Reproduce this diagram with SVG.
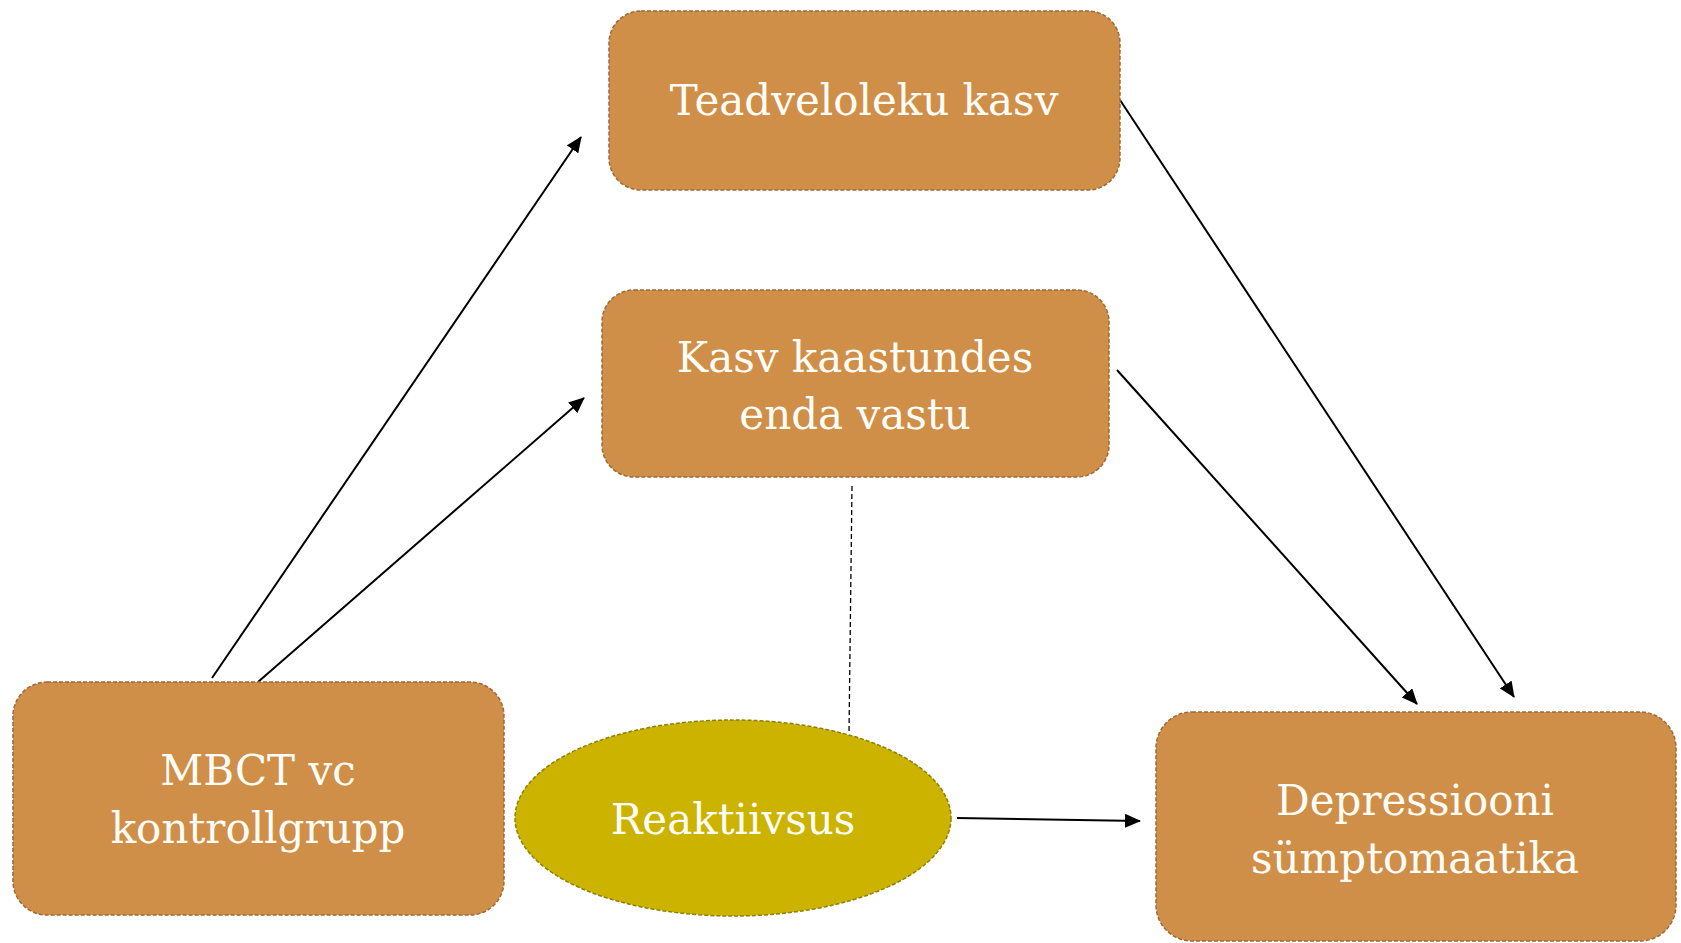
<svg xmlns="http://www.w3.org/2000/svg" width="1681" height="943" viewBox="0 0 1681 943">
<style>
.box{fill:#D08F49;stroke:#9C6A35;stroke-width:1.5;stroke-dasharray:4 2}
.ell{fill:#CBB300;stroke:#8E8000;stroke-width:1.5;stroke-dasharray:4 2}
.t{font-family:"DejaVu Serif","Liberation Serif",serif;font-size:42px;fill:#FFFDF8;text-anchor:middle}
.c{stroke:#000;stroke-width:2;fill:none}
</style>
<defs>
<marker id="a" viewBox="0 0 16 14" refX="15" refY="7" markerWidth="16" markerHeight="14" markerUnits="userSpaceOnUse" orient="auto">
<path d="M0,0 L16,7 L0,14 z" fill="#000"/>
</marker>
</defs>
<rect width="1681" height="943" fill="#fff"/>
<g id="connectors">
<line class="c" x1="212" y1="678" x2="581" y2="137" marker-end="url(#a)"/>
<line class="c" x1="258" y1="682" x2="584" y2="398" marker-end="url(#a)"/>
<line class="c" x1="1120" y1="100" x2="1514" y2="697" marker-end="url(#a)"/>
<line class="c" x1="1117" y1="370" x2="1417" y2="704" marker-end="url(#a)"/>
<line class="c" x1="957" y1="818" x2="1140" y2="821" marker-end="url(#a)"/>
<line x1="852" y1="486" x2="849" y2="733" stroke="#000" stroke-width="1.3" stroke-dasharray="5 3"/>
</g>
<g id="n1">
<rect class="box" x="609" y="11" width="511" height="179" rx="32"/>
<text class="t" x="864" y="115">Teadveloleku kasv</text>
</g>
<g id="n2">
<rect class="box" x="602" y="290" width="507" height="187" rx="32"/>
<text class="t" x="855" y="372">Kasv kaastundes</text>
<text class="t" x="855" y="429">enda vastu</text>
</g>
<g id="n3">
<rect class="box" x="13" y="682" width="491" height="233" rx="34"/>
<text class="t" x="258" y="785">MBCT vc</text>
<text class="t" x="258" y="843">kontrollgrupp</text>
</g>
<g id="n4">
<rect class="box" x="1156" y="712" width="520" height="229" rx="36"/>
<text class="t" x="1415" y="815">Depressiooni</text>
<text class="t" x="1415" y="873">sümptomaatika</text>
</g>
<g id="n5">
<ellipse class="ell" cx="733" cy="818" rx="218" ry="98"/>
<text class="t" x="733" y="834">Reaktiivsus</text>
</g>
</svg>
